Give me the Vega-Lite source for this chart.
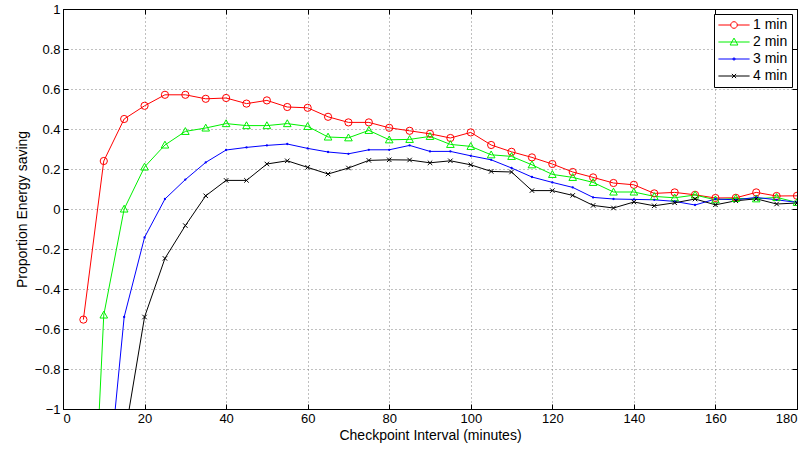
{
  "$schema": "https://vega.github.io/schema/vega-lite/v6.json",
  "width": 734,
  "height": 400,
  "autosize": {"type": "none"},
  "padding": {"left": 63, "top": 9, "right": 14, "bottom": 46},
  "background": "white",
  "config": {
    "font": "Liberation Sans",
    "view": {"stroke": "black", "strokeWidth": 1},
    "axis": {
      "domainColor": "black",
      "tickColor": "black",
      "labelColor": "black",
      "titleColor": "black",
      "labelFont": "Liberation Sans",
      "titleFont": "Liberation Sans",
      "labelFontSize": 13,
      "titleFontSize": 14,
      "titleFontWeight": "normal",
      "gridColor": "#808080",
      "gridDash": [1, 3],
      "gridOpacity": 1,
      "gridWidth": 1
    }
  },
  "resolve": {"axis": {"x": "independent", "y": "independent"}},
  "data": {
    "values": [
      {"x": 5, "y": -0.553, "series": "1 min"},
      {"x": 10, "y": 0.24, "series": "1 min"},
      {"x": 15, "y": 0.45, "series": "1 min"},
      {"x": 20, "y": 0.516, "series": "1 min"},
      {"x": 25, "y": 0.571, "series": "1 min"},
      {"x": 30, "y": 0.571, "series": "1 min"},
      {"x": 35, "y": 0.551, "series": "1 min"},
      {"x": 40, "y": 0.555, "series": "1 min"},
      {"x": 45, "y": 0.527, "series": "1 min"},
      {"x": 50, "y": 0.543, "series": "1 min"},
      {"x": 55, "y": 0.51, "series": "1 min"},
      {"x": 60, "y": 0.506, "series": "1 min"},
      {"x": 65, "y": 0.461, "series": "1 min"},
      {"x": 70, "y": 0.433, "series": "1 min"},
      {"x": 75, "y": 0.433, "series": "1 min"},
      {"x": 80, "y": 0.406, "series": "1 min"},
      {"x": 85, "y": 0.391, "series": "1 min"},
      {"x": 90, "y": 0.376, "series": "1 min"},
      {"x": 95, "y": 0.355, "series": "1 min"},
      {"x": 100, "y": 0.383, "series": "1 min"},
      {"x": 105, "y": 0.32, "series": "1 min"},
      {"x": 110, "y": 0.286, "series": "1 min"},
      {"x": 115, "y": 0.258, "series": "1 min"},
      {"x": 120, "y": 0.225, "series": "1 min"},
      {"x": 125, "y": 0.185, "series": "1 min"},
      {"x": 130, "y": 0.158, "series": "1 min"},
      {"x": 135, "y": 0.13, "series": "1 min"},
      {"x": 140, "y": 0.121, "series": "1 min"},
      {"x": 145, "y": 0.078, "series": "1 min"},
      {"x": 150, "y": 0.083, "series": "1 min"},
      {"x": 155, "y": 0.071, "series": "1 min"},
      {"x": 160, "y": 0.055, "series": "1 min"},
      {"x": 165, "y": 0.056, "series": "1 min"},
      {"x": 170, "y": 0.083, "series": "1 min"},
      {"x": 175, "y": 0.065, "series": "1 min"},
      {"x": 180, "y": 0.066, "series": "1 min"},

      {"x": 5, "y": -2.67, "series": "2 min"},
      {"x": 10, "y": -0.53, "series": "2 min"},
      {"x": 15, "y": 0.0, "series": "2 min"},
      {"x": 20, "y": 0.21, "series": "2 min"},
      {"x": 25, "y": 0.32, "series": "2 min"},
      {"x": 30, "y": 0.388, "series": "2 min"},
      {"x": 35, "y": 0.405, "series": "2 min"},
      {"x": 40, "y": 0.427, "series": "2 min"},
      {"x": 45, "y": 0.417, "series": "2 min"},
      {"x": 50, "y": 0.417, "series": "2 min"},
      {"x": 55, "y": 0.427, "series": "2 min"},
      {"x": 60, "y": 0.413, "series": "2 min"},
      {"x": 65, "y": 0.36, "series": "2 min"},
      {"x": 70, "y": 0.356, "series": "2 min"},
      {"x": 75, "y": 0.393, "series": "2 min"},
      {"x": 80, "y": 0.346, "series": "2 min"},
      {"x": 85, "y": 0.348, "series": "2 min"},
      {"x": 90, "y": 0.363, "series": "2 min"},
      {"x": 95, "y": 0.323, "series": "2 min"},
      {"x": 100, "y": 0.313, "series": "2 min"},
      {"x": 105, "y": 0.271, "series": "2 min"},
      {"x": 110, "y": 0.263, "series": "2 min"},
      {"x": 115, "y": 0.221, "series": "2 min"},
      {"x": 120, "y": 0.173, "series": "2 min"},
      {"x": 125, "y": 0.158, "series": "2 min"},
      {"x": 130, "y": 0.133, "series": "2 min"},
      {"x": 135, "y": 0.085, "series": "2 min"},
      {"x": 140, "y": 0.085, "series": "2 min"},
      {"x": 145, "y": 0.063, "series": "2 min"},
      {"x": 150, "y": 0.056, "series": "2 min"},
      {"x": 155, "y": 0.07, "series": "2 min"},
      {"x": 160, "y": 0.046, "series": "2 min"},
      {"x": 165, "y": 0.053, "series": "2 min"},
      {"x": 170, "y": 0.051, "series": "2 min"},
      {"x": 175, "y": 0.058, "series": "2 min"},
      {"x": 180, "y": 0.033, "series": "2 min"},

      {"x": 10, "y": -1.59, "series": "3 min"},
      {"x": 15, "y": -0.54, "series": "3 min"},
      {"x": 20, "y": -0.142, "series": "3 min"},
      {"x": 25, "y": 0.05, "series": "3 min"},
      {"x": 30, "y": 0.147, "series": "3 min"},
      {"x": 35, "y": 0.233, "series": "3 min"},
      {"x": 40, "y": 0.295, "series": "3 min"},
      {"x": 45, "y": 0.308, "series": "3 min"},
      {"x": 50, "y": 0.318, "series": "3 min"},
      {"x": 55, "y": 0.325, "series": "3 min"},
      {"x": 60, "y": 0.303, "series": "3 min"},
      {"x": 65, "y": 0.285, "series": "3 min"},
      {"x": 70, "y": 0.276, "series": "3 min"},
      {"x": 75, "y": 0.296, "series": "3 min"},
      {"x": 80, "y": 0.296, "series": "3 min"},
      {"x": 85, "y": 0.318, "series": "3 min"},
      {"x": 90, "y": 0.288, "series": "3 min"},
      {"x": 95, "y": 0.288, "series": "3 min"},
      {"x": 100, "y": 0.266, "series": "3 min"},
      {"x": 105, "y": 0.246, "series": "3 min"},
      {"x": 110, "y": 0.205, "series": "3 min"},
      {"x": 115, "y": 0.16, "series": "3 min"},
      {"x": 120, "y": 0.133, "series": "3 min"},
      {"x": 125, "y": 0.108, "series": "3 min"},
      {"x": 130, "y": 0.058, "series": "3 min"},
      {"x": 135, "y": 0.05, "series": "3 min"},
      {"x": 140, "y": 0.048, "series": "3 min"},
      {"x": 145, "y": 0.046, "series": "3 min"},
      {"x": 150, "y": 0.038, "series": "3 min"},
      {"x": 155, "y": 0.02, "series": "3 min"},
      {"x": 160, "y": 0.05, "series": "3 min"},
      {"x": 165, "y": 0.046, "series": "3 min"},
      {"x": 170, "y": 0.058, "series": "3 min"},
      {"x": 175, "y": 0.046, "series": "3 min"},
      {"x": 180, "y": 0.033, "series": "3 min"},

      {"x": 15, "y": -1.15, "series": "4 min"},
      {"x": 20, "y": -0.54, "series": "4 min"},
      {"x": 25, "y": -0.247, "series": "4 min"},
      {"x": 30, "y": -0.083, "series": "4 min"},
      {"x": 35, "y": 0.066, "series": "4 min"},
      {"x": 40, "y": 0.143, "series": "4 min"},
      {"x": 45, "y": 0.143, "series": "4 min"},
      {"x": 50, "y": 0.225, "series": "4 min"},
      {"x": 55, "y": 0.241, "series": "4 min"},
      {"x": 60, "y": 0.208, "series": "4 min"},
      {"x": 65, "y": 0.175, "series": "4 min"},
      {"x": 70, "y": 0.205, "series": "4 min"},
      {"x": 75, "y": 0.243, "series": "4 min"},
      {"x": 80, "y": 0.246, "series": "4 min"},
      {"x": 85, "y": 0.245, "series": "4 min"},
      {"x": 90, "y": 0.231, "series": "4 min"},
      {"x": 95, "y": 0.241, "series": "4 min"},
      {"x": 100, "y": 0.221, "series": "4 min"},
      {"x": 105, "y": 0.188, "series": "4 min"},
      {"x": 110, "y": 0.185, "series": "4 min"},
      {"x": 115, "y": 0.092, "series": "4 min"},
      {"x": 120, "y": 0.092, "series": "4 min"},
      {"x": 125, "y": 0.068, "series": "4 min"},
      {"x": 130, "y": 0.018, "series": "4 min"},
      {"x": 135, "y": 0.005, "series": "4 min"},
      {"x": 140, "y": 0.035, "series": "4 min"},
      {"x": 145, "y": 0.016, "series": "4 min"},
      {"x": 150, "y": 0.031, "series": "4 min"},
      {"x": 155, "y": 0.05, "series": "4 min"},
      {"x": 160, "y": 0.021, "series": "4 min"},
      {"x": 165, "y": 0.041, "series": "4 min"},
      {"x": 170, "y": 0.051, "series": "4 min"},
      {"x": 175, "y": 0.025, "series": "4 min"},
      {"x": 180, "y": 0.03, "series": "4 min"}
    ]
  },
  "encoding": {
    "x": {
      "field": "x",
      "type": "quantitative",
      "scale": {"domain": [0, 180], "nice": false, "zero": false},
      "axis": null
    },
    "y": {
      "field": "y",
      "type": "quantitative",
      "scale": {"domain": [-1, 1], "nice": false, "zero": false},
      "axis": null
    },
    "color": {
      "field": "series",
      "type": "nominal",
      "scale": {
        "domain": ["1 min", "2 min", "3 min", "4 min"],
        "range": ["#ff0000", "#00f000", "#0000ff", "#000000"]
      },
      "legend": {
        "title": null,
        "orient": "top-right",
        "offset": 5,
        "fillColor": "white",
        "strokeColor": "black",
        "padding": 4,
        "labelFont": "Liberation Sans",
        "labelFontSize": 14,
        "labelColor": "black",
        "symbolSize": 144,
        "symbolStrokeWidth": 1,
        "symbolFillColor": "transparent",
        "symbolOffset": 9,
        "labelOffset": 12,
        "rowPadding": 3
      }
    }
  },
  "layer": [
    {
      "mark": {"type": "line", "strokeWidth": 1, "clip": true},
      "encoding": {
        "detail": {"field": "series"},
        "x": {
          "field": "x",
          "type": "quantitative",
          "scale": {"domain": [0, 180], "nice": false, "zero": false},
          "axis": {
            "title": "Checkpoint Interval (minutes)",
            "orient": "bottom",
            "values": [0, 20, 40, 60, 80, 100, 120, 140, 160, 180],
            "grid": true,
            "tickSize": -5,
            "labelPadding": 8,
            "titlePadding": 3
          }
        },
        "y": {
          "field": "y",
          "type": "quantitative",
          "scale": {"domain": [-1, 1], "nice": false, "zero": false},
          "axis": {
            "title": "Proportion Energy saving",
            "orient": "left",
            "values": [-1, -0.8, -0.6, -0.4, -0.2, 0, 0.2, 0.4, 0.6, 0.8, 1],
            "format": "~g",
            "grid": true,
            "tickSize": -5,
            "labelPadding": 8,
            "titlePadding": 5
          }
        }
      }
    },
    {
      "transform": [{"filter": "datum.series === '1 min'"}],
      "mark": {"type": "point", "shape": "circle", "size": 52, "filled": false, "strokeWidth": 1, "clip": true, "opacity": 1},
      "encoding": {
        "x": {
          "field": "x",
          "type": "quantitative",
          "scale": {"domain": [0, 180], "nice": false, "zero": false},
          "axis": {
            "title": null,
            "orient": "top",
            "values": [0, 20, 40, 60, 80, 100, 120, 140, 160, 180],
            "grid": false,
            "labels": false,
            "tickSize": -5
          }
        },
        "y": {
          "field": "y",
          "type": "quantitative",
          "scale": {"domain": [-1, 1], "nice": false, "zero": false},
          "axis": {
            "title": null,
            "orient": "right",
            "values": [-1, -0.8, -0.6, -0.4, -0.2, 0, 0.2, 0.4, 0.6, 0.8, 1],
            "grid": false,
            "labels": false,
            "tickSize": -5
          }
        }
      }
    },
    {
      "transform": [{"filter": "datum.series === '2 min'"}],
      "mark": {"type": "point", "shape": "M0,-1L1,0.8L-1,0.8Z", "size": 58, "filled": false, "strokeWidth": 1, "clip": true, "opacity": 1}
    },
    {
      "transform": [{"filter": "datum.series === '3 min'"}],
      "mark": {"type": "point", "shape": "circle", "size": 1, "filled": false, "strokeWidth": 1.3, "clip": true, "opacity": 1}
    },
    {
      "transform": [{"filter": "datum.series === '4 min'"}],
      "mark": {"type": "point", "shape": "M-1,-1L1,1M-1,1L1,-1", "size": 20, "filled": false, "strokeWidth": 1, "clip": true, "opacity": 1}
    },
    {
      "transform": [{"filter": "datum.x < 0"}],
      "mark": {"type": "point", "filled": false, "opacity": 1, "strokeWidth": 1},
      "encoding": {
        "shape": {
          "field": "series",
          "type": "nominal",
          "scale": {
            "domain": ["1 min", "2 min", "3 min", "4 min"],
            "range": [
              "M-2.6,0H-0.55M0.55,0H2.6M-0.55,0A0.55,0.55 0 1,0 0.55,0A0.55,0.55 0 1,0 -0.55,0",
              "M-2.6,0H2.6M0,-0.65L0.65,0.5L-0.65,0.5Z",
              "M-2.6,0H2.6M-0.15,-0.15H0.15V0.15H-0.15Z",
              "M-2.6,0H2.6M-0.35,-0.35L0.35,0.35M-0.35,0.35L0.35,-0.35"
            ]
          },
          "legend": {
            "title": null,
            "orient": "top-right",
            "offset": 5,
            "fillColor": "white",
            "strokeColor": "black",
            "padding": 4,
            "labelFont": "Liberation Sans",
            "labelFontSize": 14,
            "labelColor": "black",
            "symbolSize": 144,
            "symbolStrokeWidth": 1,
            "symbolFillColor": "transparent",
            "symbolOffset": 9,
            "labelOffset": 12,
            "rowPadding": 3
          }
        }
      }
    }
  ]
}
